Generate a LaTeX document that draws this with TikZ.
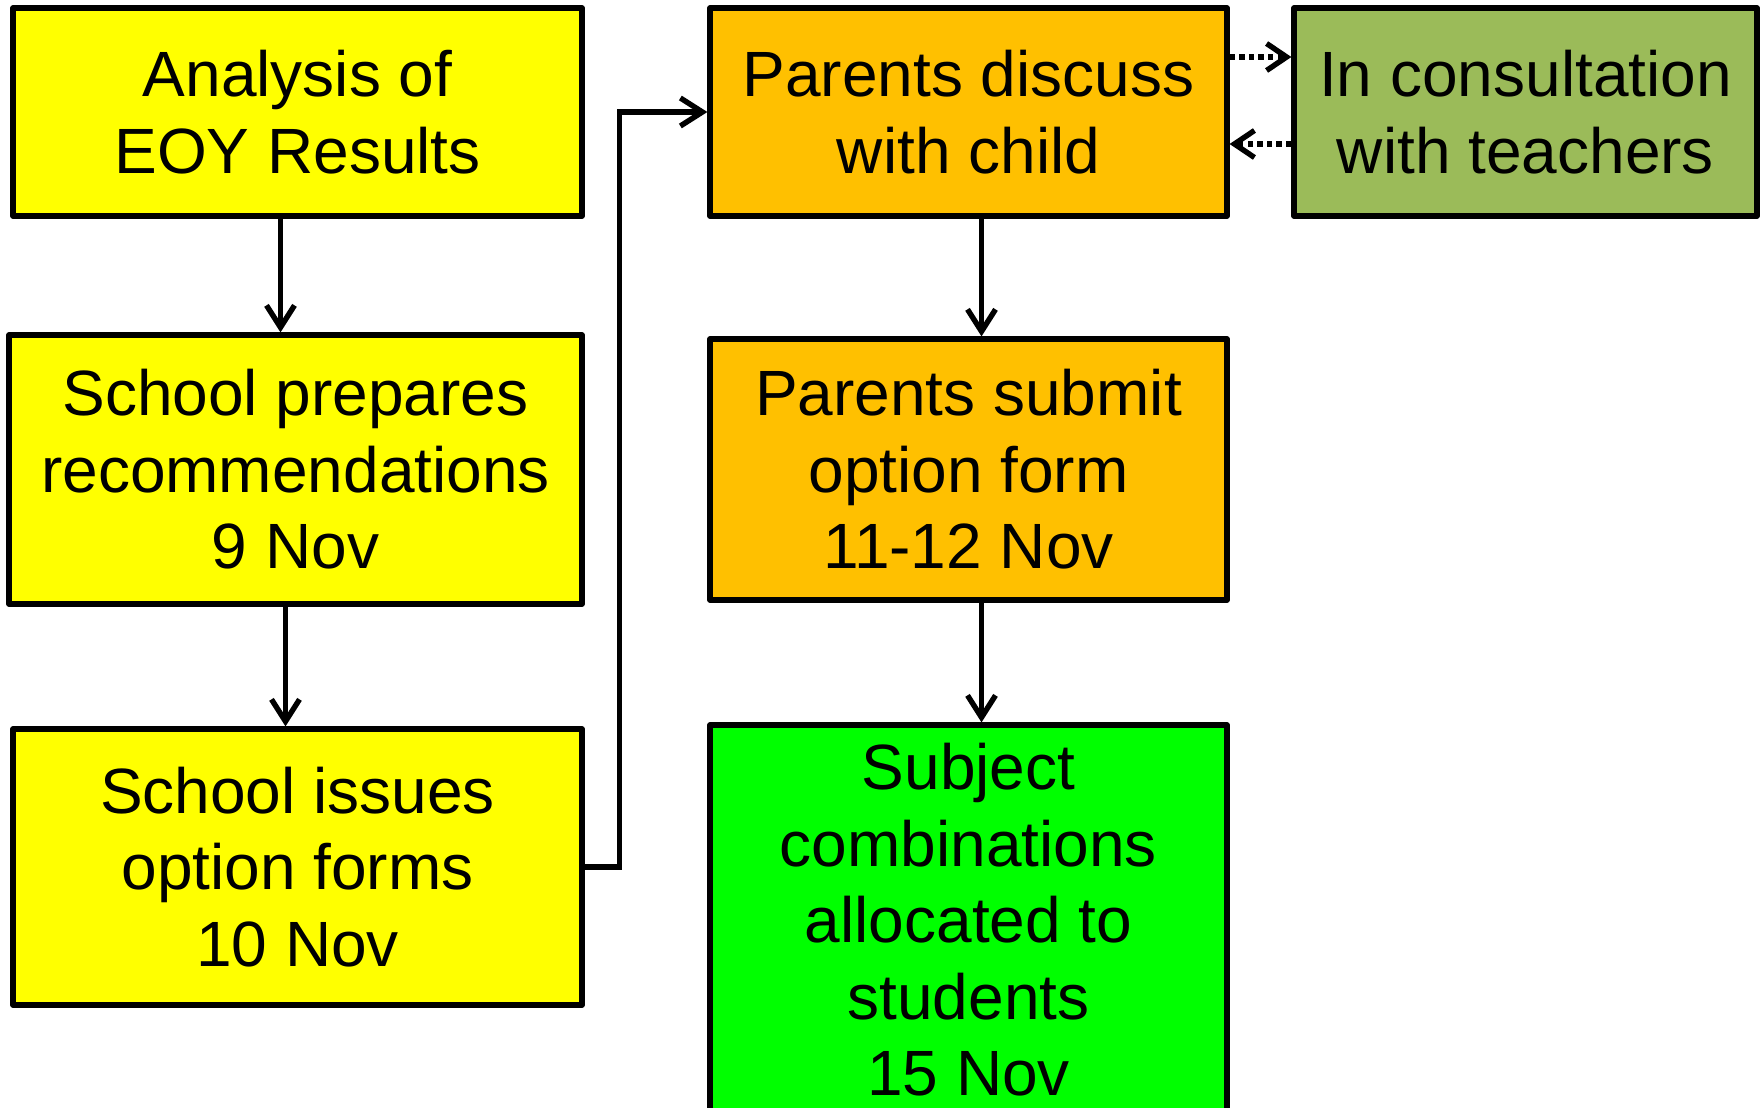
\documentclass[tikz,border=0pt]{standalone}
\usepackage{fontspec}
\setmainfont{Liberation Sans}
\usetikzlibrary{arrows.meta}
\definecolor{yel}{HTML}{FFFF00}
\definecolor{ora}{HTML}{FFC000}
\definecolor{oli}{HTML}{9BBB59}
\definecolor{grn}{HTML}{00FF00}
\tikzset{
  box/.style={draw=black, line width=2.6pt, line join=round, inner sep=0pt, align=center,
    font=\fontsize{32}{38.25}\selectfont},
  arr/.style={draw=black, line width=2.7pt, -{Straight Barb[length=11pt,width=14pt,line width=2.7pt]}},
  darr/.style={draw=black, line width=2.9pt, dash pattern=on 2.7pt off 2.1pt,
    -{Straight Barb[length=10pt,width=13.5pt,line width=2.7pt]}}
}
\begin{document}
\begin{tikzpicture}[x=0.5pt,y=-0.5pt]
\fill[white] (0,0) rectangle (1764,1107);
\useasboundingbox (0,0) rectangle (1764,1107);
\clip (0,0) rectangle (1764,1107);
\node[box, fill=yel, minimum width=284.5pt, minimum height=104pt] (A) at (297.5,112) {Analysis of\\EOY Results};
\node[box, fill=yel, minimum width=286.5pt, minimum height=134.5pt] (B) at (295.5,469.5) {School prepares\\recommendations\\9 Nov};
\node[box, fill=yel, minimum width=284.5pt, minimum height=138pt] (C) at (297.5,867) {School issues\\option forms\\10 Nov};
\node[box, fill=ora, minimum width=258.5pt, minimum height=104pt] (D) at (968.5,112) {Parents discuss\\with child};
\node[box, fill=oli, minimum width=231.5pt, minimum height=104pt] (E) at (1525.5,112) {In consultation\\with teachers};
\node[box, fill=ora, minimum width=258.5pt, minimum height=130.5pt] (F) at (968.5,469.5) {Parents submit\\option form\\11-12 Nov};
\node[box, fill=grn, minimum width=258.5pt, minimum height=195pt] (G) at (968.5,920) {Subject\\combinations\\allocated to\\students\\15 Nov};
\coordinate (xab) at (280.5,0);
\coordinate (xbc) at (285.5,0);
\coordinate (xdf) at (981.5,0);
\draw[arr] (A.south -| xab) -- (B.north -| xab);
\draw[arr] (B.south -| xbc) -- (C.north -| xbc);
\draw[arr] (C.east) -- ++(35,0) |- (D.west);
\draw[arr] (D.south -| xdf) -- (F.north -| xdf);
\draw[arr] (F.south -| xdf) -- (G.north -| xdf);
\draw[darr] ([yshift=27.5pt]D.east) -- ([yshift=27.5pt]E.west);
\draw[darr] ([yshift=-16pt]E.west) -- ([yshift=-16pt]D.east);
\end{tikzpicture}
\end{document}
